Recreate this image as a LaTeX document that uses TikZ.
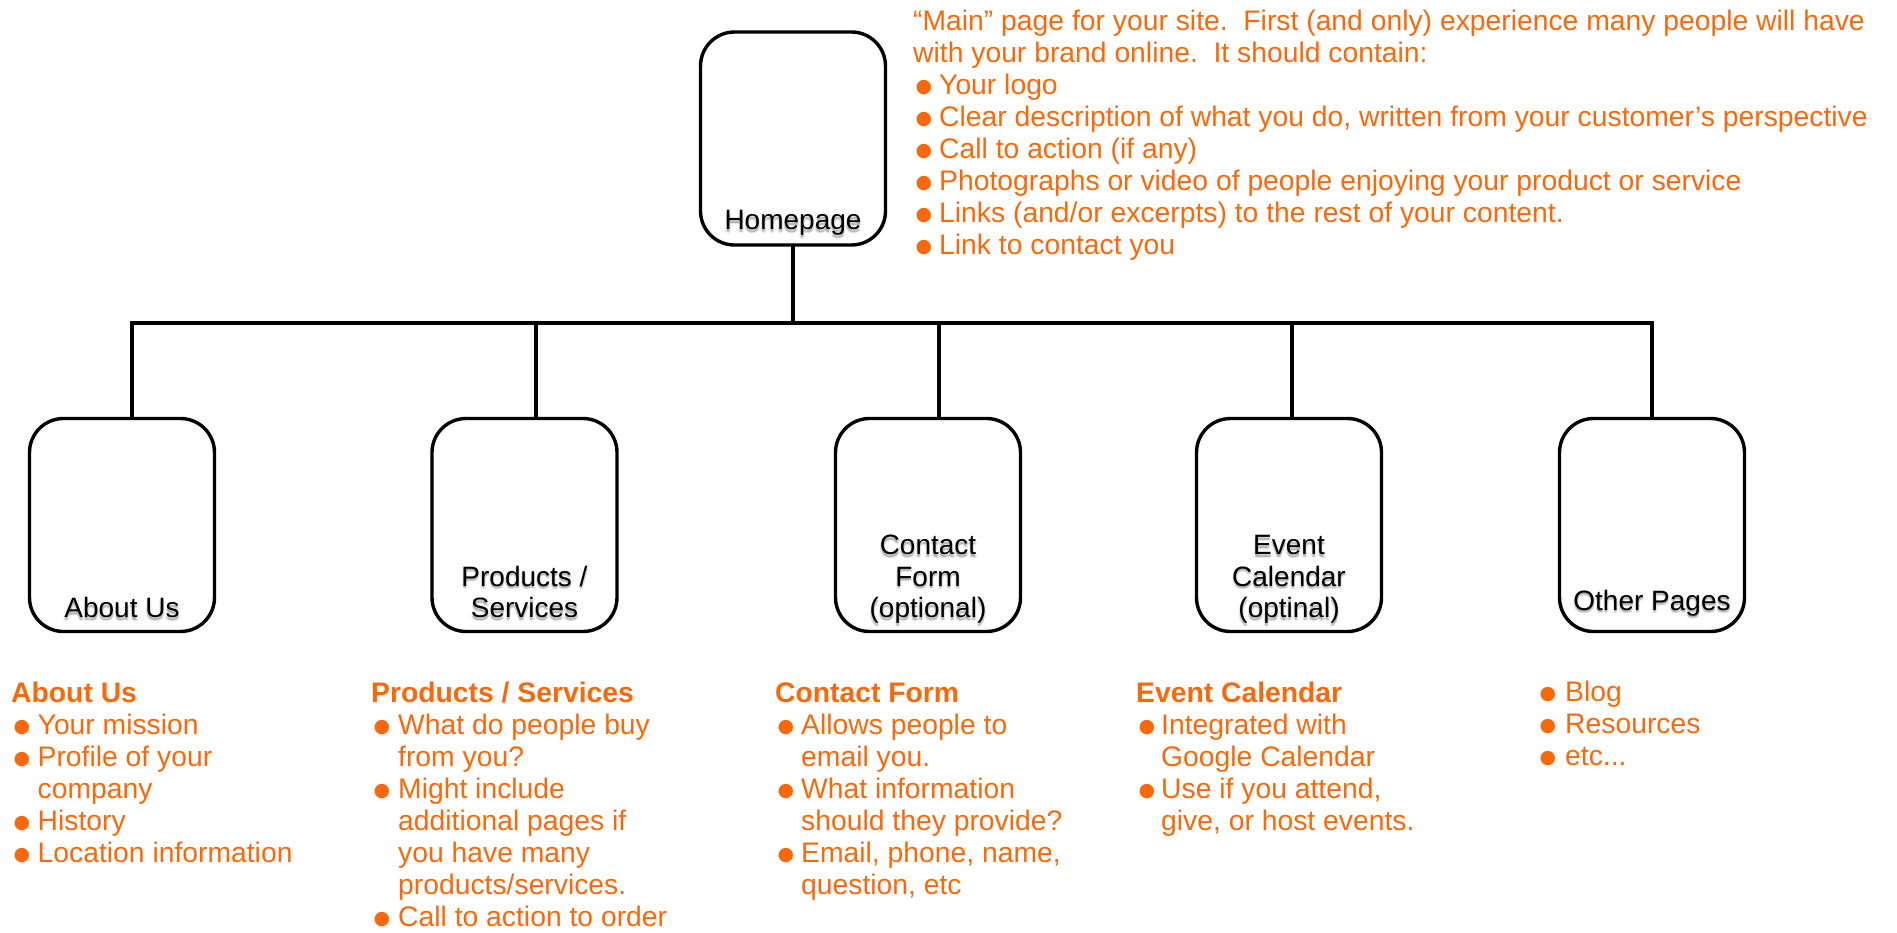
\documentclass[tikz,border=0pt]{standalone}
\usepackage{fontspec}
\setmainfont{Liberation Sans}
\newfontfamily\symfont{DejaVu Sans}
\definecolor{accent}{RGB}{250,104,10}
\newcommand\bul{\hspace{2.5pt}\raisebox{1.2pt}{\symfont\fontsize{19}{19}\selectfont ●}}
% page label set above the bottom of its box, with a soft grey shadow beneath it
% #1 label name, #2 box name, #3 lift above the box bottom, #4 text
\newcommand\pagelabel[4]{%
  \foreach \dx/\dy [count=\i] in {0/-1.5,1.2/-2.5,-1.2/-2.5,0/-3.5}
    \node[lbl,text=black,opacity=.10] (#1sh\i) at ([xshift=\dx pt,yshift=#3+\dy pt]#2.south) {#4};
  \node[lbl] (#1) at ([yshift=#3]#2.south) {#4};}
\begin{document}
\begin{tikzpicture}[x=1pt,y=-1pt,
  pagebox/.style={draw=black,line width=3.4pt,rounded corners=34pt,
    minimum width=185pt,minimum height=213pt,inner sep=0pt,fill=white},
  lbl/.style={anchor=south,inner sep=0pt,align=center,
    font=\fontsize{28}{31.5}\selectfont},
  notes/.style={anchor=base west,inner sep=0pt,text=accent,
    font=\fontsize{28.3}{32}\selectfont},
  link/.style={line width=3.4pt,line cap=rect}]
\useasboundingbox (0,0) rectangle (1897,932);

% page boxes
\node[pagebox] (home)    at (793,138.5) {};
\node[pagebox] (about)   at (122,525) {};
\node[pagebox] (prod)    at (524.5,525) {};
\node[pagebox] (contact) at (928,525) {};
\node[pagebox] (event)   at (1289,525) {};
\node[pagebox] (other)   at (1652,525) {};

% tree connectors
\coordinate (jA) at (132,323);
\coordinate (jB) at (536,323);
\coordinate (jC) at (939,323);
\coordinate (jD) at (1292,323);
\coordinate (jE) at (1652,323);
\draw[link] (jA) -- (jE);
\draw[link] (home.south) -- (home.south |- jA);
\draw[link] (jA) -- (jA |- about.north);
\draw[link] (jB) -- (jB |- prod.north);
\draw[link] (jC) -- (jC |- contact.north);
\draw[link] (jD) -- (jD |- event.north);
\draw[link] (jE) -- (jE |- other.north);

% box labels
\pagelabel{homelbl}{home}{7.5pt}{Homepage\strut}
\pagelabel{aboutlbl}{about}{6pt}{About Us\strut}
\pagelabel{prodlbl}{prod}{6pt}{Products /\\Services\strut}
\pagelabel{contactlbl}{contact}{6pt}{Contact\\Form\\(optional)\strut}
\pagelabel{eventlbl}{event}{6pt}{Event\\Calendar\\(optinal)\strut}
\pagelabel{otherlbl}{other}{13.5pt}{Other Pages\strut}

% notes
\node[notes] (homenote) at (913,30) {\begin{tabular}[t]{@{}p{26pt}@{}l@{}}
\multicolumn{2}{@{}l@{}}{“Main” page for your site.\ \ First (and only) experience many people will have}\\
\multicolumn{2}{@{}l@{}}{with your brand online.\ \ It should contain:}\\
\bul & Your logo\\
\bul & Clear description of what you do, written from your customer’s perspective\\
\bul & Call to action (if any)\\
\bul & Photographs or video of people enjoying your product or service\\
\bul & Links (and/or excerpts) to the rest of your content.\\
\bul & Link to contact you
\end{tabular}};

\node[notes] (aboutnote) at (11,702) {\begin{tabular}[t]{@{}p{26.5pt}@{}l@{}}
\multicolumn{2}{@{}l@{}}{\bfseries About Us}\\
\bul & Your mission\\
\bul & Profile of your\\
     & company\\
\bul & History\\
\bul & Location information
\end{tabular}};

\node[notes] (prodnote) at (371,702) {\begin{tabular}[t]{@{}p{27pt}@{}l@{}}
\multicolumn{2}{@{}l@{}}{\bfseries Products / Services}\\
\bul & What do people buy\\
     & from you?\\
\bul & Might include\\
     & additional pages if\\
     & you have many\\
     & products/services.\\
\bul & Call to action to order
\end{tabular}};

\node[notes] (contactnote) at (775,702) {\begin{tabular}[t]{@{}p{26pt}@{}l@{}}
\multicolumn{2}{@{}l@{}}{\bfseries Contact Form}\\
\bul & Allows people to\\
     & email you.\\
\bul & What information\\
     & should they provide?\\
\bul & Email, phone, name,\\
     & question, etc
\end{tabular}};

\node[notes] (eventnote) at (1136,702) {\begin{tabular}[t]{@{}p{25pt}@{}l@{}}
\multicolumn{2}{@{}l@{}}{\bfseries Event Calendar}\\
\bul & Integrated with\\
     & Google Calendar\\
\bul & Use if you attend,\\
     & give, or host events.
\end{tabular}};

\node[notes] (othernote) at (1537,701) {\begin{tabular}[t]{@{}p{28pt}@{}l@{}}
\bul & Blog\\
\bul & Resources\\
\bul & etc...
\end{tabular}};
\end{tikzpicture}
\end{document}
